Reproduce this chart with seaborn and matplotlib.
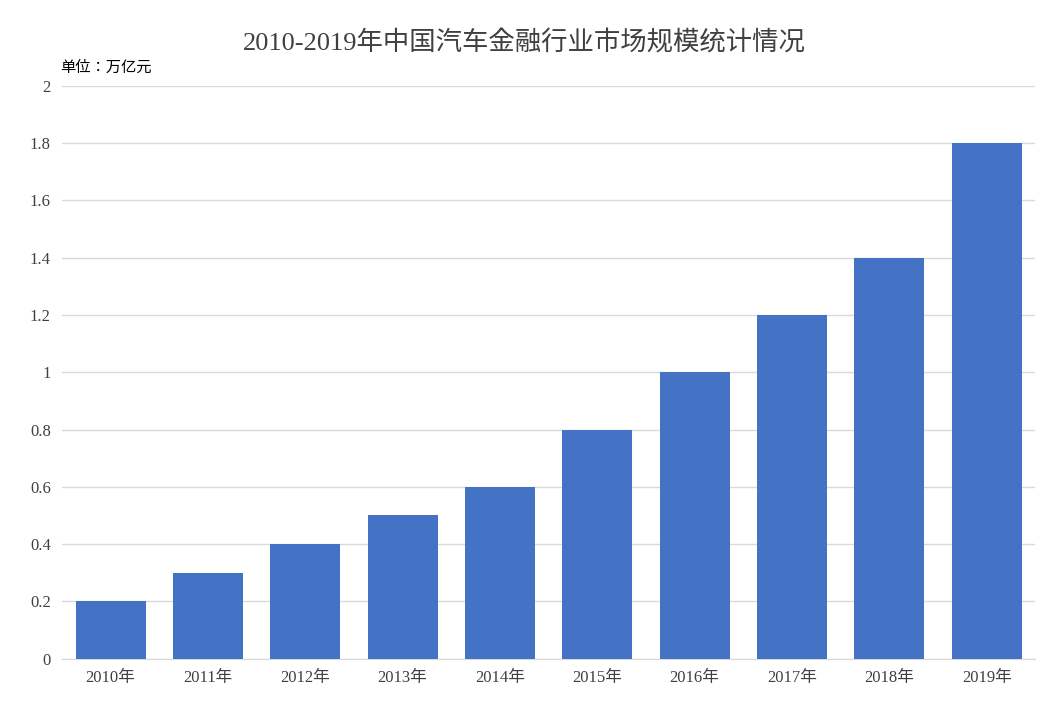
import matplotlib
matplotlib.use("Agg")
import matplotlib.pyplot as plt
from matplotlib import font_manager
import seaborn as sns
import pandas as pd

# data
years = ["2010年", "2011年", "2012年", "2013年", "2014年",
         "2015年", "2016年", "2017年", "2018年", "2019年"]
values = [0.2, 0.3, 0.4, 0.5, 0.6, 0.8, 1.0, 1.2, 1.4, 1.8]
yticks = [0, 0.2, 0.4, 0.6, 0.8, 1, 1.2, 1.4, 1.6, 1.8, 2]
ytick_labels = ["0", "0.2", "0.4", "0.6", "0.8", "1", "1.2", "1.4", "1.6", "1.8", "2"]

# find whatever CJK family name is registered
cjk = [f.name for f in font_manager.fontManager.ttflist if "CJK" in f.name]
cjk = sorted(set(cjk), key=lambda n: (0 if "SC" in n else 1, n))
plt.rcParams["font.family"] = ["Liberation Serif"] + cjk + ["DejaVu Sans"]

df = pd.DataFrame({"year": years, "value": values})

fig = plt.figure(figsize=(10.49, 7.09), dpi=100)
ax = fig.add_axes([0.059, 0.071, 0.928, 0.808])
sns.barplot(data=df, x="year", y="value", color="#4472C4", width=0.72,
            saturation=1, ax=ax, zorder=3)

ax.set_ylim(0, 2)
ax.set_xlim(-0.5, len(years) - 0.5)
ax.set_yticks(yticks)
ax.set_yticklabels(ytick_labels)
ax.grid(axis="y", color="#D9D9D9", linewidth=1, zorder=0)
ax.set_axisbelow(True)
for s in ["top", "right", "left"]:
    ax.spines[s].set_visible(False)
ax.spines["bottom"].set_color("#D9D9D9")
ax.tick_params(axis="both", length=0, labelsize=12, colors="#404040", pad=8)
ax.set_xlabel("")
ax.set_ylabel("")

fig.text(0.5, 0.94, "2010-2019年中国汽车金融行业市场规模统计情况",
         ha="center", va="center", fontsize=19, color="#404040")
fig.text(0.057, 0.904, "单位：万亿元", ha="left", va="center",
         fontsize=11, color="#000000")

fig.savefig("out.png", dpi=100)
